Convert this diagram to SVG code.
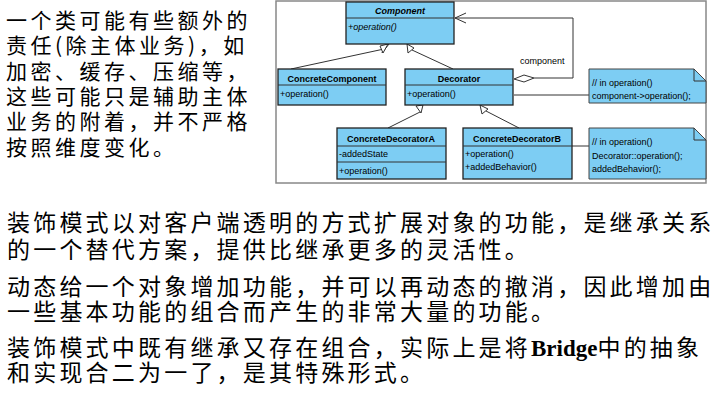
<svg xmlns="http://www.w3.org/2000/svg" width="717" height="400" viewBox="0 0 717 400">
<style>
.box{fill:#7dcdf3;stroke:#222;stroke-width:1.3}
.ln{stroke:#333;stroke-width:1;fill:none}
.tri{fill:#fff;stroke:#333;stroke-width:1}
.t{font-family:"Liberation Sans",Arial,sans-serif;font-size:9px;fill:#000}
.b{font-weight:bold;text-anchor:middle}
.cn{font-family:"Noto Sans CJK SC",sans-serif;fill:#000}
.note{fill:#7dcdf3;stroke:#444;stroke-width:1}
</style>
<rect width="717" height="400" fill="#fff"/>
<g id="left-text" class="cn" font-size="21" letter-spacing="3.5">
<text x="6" y="28">一个类可能有些额外的</text>
<text x="6" y="53">责任(除主体业务)，如</text>
<text x="6" y="79">加密、缓存、压缩等，</text>
<text x="6" y="104">这些可能只是辅助主体</text>
<text x="6" y="129">业务的附着，并不严格</text>
<text x="6" y="155">按照维度变化。</text>
</g>
<rect x="276" y="1" width="430" height="182" fill="#fff" stroke="#888" stroke-width="1.5"/>
<g id="connectors">
<polyline class="ln" points="291,69 384,49"/>
<polyline class="ln" points="453,69 412,50"/>
<polygon class="tri" points="389,44 382,53 386,44"/>
<polygon class="tri" points="388,44 380,46 383,53"/>
<polygon class="tri" points="407,44 408,53 414,48"/>
<polyline class="ln" points="388,128 420,112"/>
<polyline class="ln" points="519,128 486,111"/>
<polygon class="tri" points="423,105 416,106 421,113"/>
<polygon class="tri" points="480,105 482,114 488,109"/>
<polygon class="tri" points="514,79 524,75 534,78 524,82"/>
<polyline class="ln" points="534,78 573,78 573,18 455,18"/>
<polyline class="ln" points="466,13 455,18 466,23"/>
<text class="t" x="520" y="64">component</text>
<line class="ln" x1="514" y1="95" x2="589" y2="95" stroke="#666"/>
<line class="ln" x1="572" y1="146" x2="589" y2="146" stroke="#666"/>
</g>
<g id="Component">
<rect class="box" x="346" y="2" width="108" height="42"/>
<line class="ln" x1="346" y1="18" x2="454" y2="18"/>
<text class="t b" x="400" y="14" font-style="italic">Component</text>
<text class="t" x="348" y="30" font-style="italic">+operation()</text>
</g>
<g id="ConcreteComponent">
<rect class="box" x="278" y="69" width="108" height="36"/>
<line class="ln" x1="278" y1="85" x2="386" y2="85"/>
<text class="t b" x="332" y="82">ConcreteComponent</text>
<text class="t" x="280" y="97">+operation()</text>
</g>
<g id="Decorator">
<rect class="box" x="405" y="69" width="108" height="36"/>
<line class="ln" x1="405" y1="85" x2="513" y2="85"/>
<text class="t b" x="459" y="82">Decorator</text>
<text class="t" x="407" y="97">+operation()</text>
</g>
<g id="ConcreteDecoratorA">
<rect class="box" x="337" y="128" width="109" height="51"/>
<line class="ln" x1="337" y1="146" x2="446" y2="146"/>
<line class="ln" x1="337" y1="162" x2="446" y2="162"/>
<text class="t b" x="391" y="142">ConcreteDecoratorA</text>
<text class="t" x="339" y="157">-addedState</text>
<text class="t" x="339" y="174">+operation()</text>
</g>
<g id="ConcreteDecoratorB">
<rect class="box" x="463" y="128" width="109" height="51"/>
<line class="ln" x1="463" y1="146" x2="572" y2="146"/>
<text class="t b" x="517" y="142">ConcreteDecoratorB</text>
<text class="t" x="465" y="157">+operation()</text>
<text class="t" x="465" y="170">+addedBehavior()</text>
</g>
<g id="note1">
<path class="note" d="M589,69 H694 L706,81 V103 H589 Z"/>
<path class="ln" d="M694,69 V81 H706"/>
<text class="t" x="592" y="86">// in operation()</text>
<text class="t" x="592" y="99">component-&gt;operation();</text>
</g>
<g id="note2">
<path class="note" d="M589,128 H694 L706,140 V179 H589 Z"/>
<path class="ln" d="M694,128 V140 H706"/>
<text class="t" x="592" y="145">// in operation()</text>
<text class="t" x="592" y="159">Decorator::operation();</text>
<text class="t" x="592" y="172">addedBehavior();</text>
</g>
<g id="bottom-text" class="cn" font-size="23" letter-spacing="3.2">
<text x="7" y="231">装饰模式以对客户端透明的方式扩展对象的功能，是继承关系</text>
<text x="7" y="258">的一个替代方案，提供比继承更多的灵活性。</text>
<text x="7" y="295">动态给一个对象增加功能，并可以再动态的撤消，因此增加由</text>
<text x="7" y="320">一些基本功能的组合而产生的非常大量的功能。</text>
<text x="7" y="356">装饰模式中既有继承又存在组合，实际上是将<tspan font-family="Liberation Serif,serif" font-weight="bold" letter-spacing="0">Bridge</tspan>中的抽象</text>
<text x="7" y="381">和实现合二为一了，是其特殊形式。</text>
</g>
</svg>
